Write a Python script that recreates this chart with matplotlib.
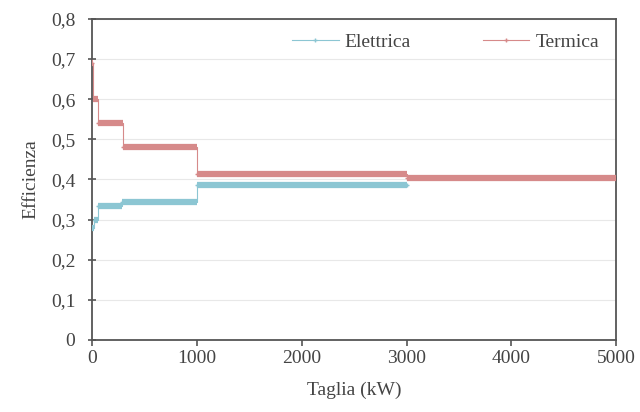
import matplotlib
matplotlib.use("Agg")
import matplotlib.pyplot as plt
from matplotlib.ticker import FuncFormatter

# --- data ---
el_edges = [0, 20, 60, 280, 1000, 3000]
el_values = [0.28, 0.30, 0.335, 0.343, 0.385]
te_edges = [0, 10, 55, 290, 1000, 3000, 5000]
te_values = [0.69, 0.60, 0.54, 0.48, 0.413, 0.403]

x_ticks = [0, 1000, 2000, 3000, 4000, 5000]
y_ticks = [0, 0.1, 0.2, 0.3, 0.4, 0.5, 0.6, 0.7, 0.8]

el_color = "#8cc6d3"
te_color = "#d68a8a"
text_color = "#444444"

plt.rcParams['font.family'] = ['Liberation Serif', 'DejaVu Serif']
plt.rcParams['font.size'] = 14

fig = plt.figure(figsize=(6.4, 4.12), dpi=100)
ax = fig.add_axes([0.144, 0.175, 0.819, 0.779])

for edges, vals, col, name in [(el_edges, el_values, el_color, "Elettrica"),
                               (te_edges, te_values, te_color, "Termica")]:
    # thick horizontal steps
    ax.hlines(vals, edges[:-1], edges[1:], colors=col, lw=4.5, zorder=3)
    # thin connectors + markers
    xs = edges
    ys = vals + [vals[-1]]
    ax.plot(xs, ys, drawstyle='steps-post', color=col, lw=0.8, zorder=2,
            marker='+', markersize=3, label=name)

ax.set_xlim(0, 5000)
ax.set_ylim(0, 0.8)
ax.set_xticks(x_ticks)
ax.set_yticks(y_ticks)
ax.yaxis.set_major_formatter(FuncFormatter(lambda v, p: "0" if v == 0 else f"{v:.1f}".replace(".", ",")))
ax.yaxis.grid(True, color="#e8e8e8", lw=0.8)
ax.set_axisbelow(True)

for s in ax.spines.values():
    s.set_color("#555555")
    s.set_linewidth(1.3)
ax.tick_params(axis='y', direction='inout', length=6, width=1.2, colors="#555555",
               labelcolor=text_color, pad=9)
ax.tick_params(axis='x', direction='out', length=4, width=1.2, colors="#555555",
               labelcolor=text_color, pad=3)

ax.set_xlabel("Taglia (kW)", color=text_color, labelpad=11)
ax.set_ylabel("Efficienza", color=text_color, labelpad=8)

leg = ax.legend(loc='upper right', ncol=2, frameon=False, columnspacing=3.7,
                handlelength=2.4, handletextpad=0.3,
                bbox_to_anchor=(1.0, 1.01))
for t in leg.get_texts():
    t.set_color(text_color)

fig.savefig("out.png", dpi=100)
